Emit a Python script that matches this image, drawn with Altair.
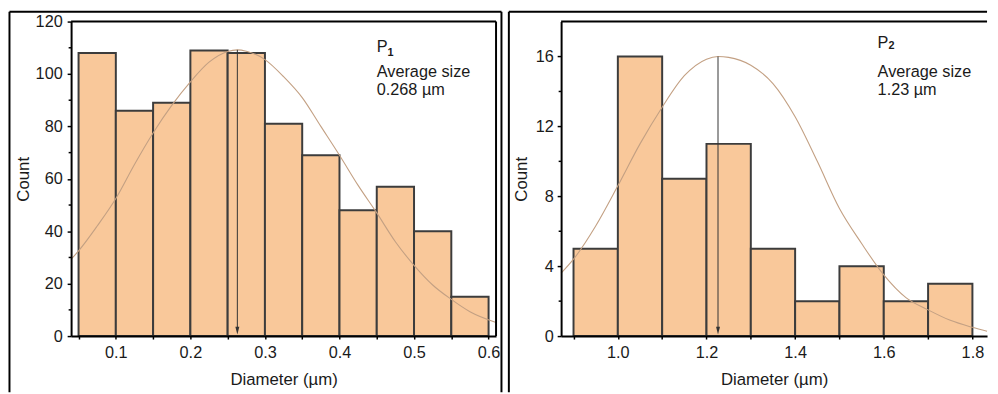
import altair as alt
import pandas as pd

FONT = "Liberation Sans"
TEXT = "#1a1a1a"
FILL = "#F9C89A"
EDGE = "#3c3c3c"
FIT = "#C3A083"
ARROW = "#333333"

# ---------------- Panel P1 ----------------
p1_bin_start = [0.05, 0.10, 0.15, 0.20, 0.25, 0.30, 0.35, 0.40, 0.45, 0.50, 0.55]
p1_bin_end = [0.10, 0.15, 0.20, 0.25, 0.30, 0.35, 0.40, 0.45, 0.50, 0.55, 0.60]
p1_count = [108, 86, 89, 109, 108, 81, 69, 48, 57, 40, 15]
p1_fit_x = [0.04, 0.05, 0.075, 0.10, 0.125, 0.15, 0.175, 0.20, 0.225, 0.25, 0.263,
            0.275, 0.30, 0.325, 0.35, 0.375, 0.40, 0.425, 0.45, 0.475, 0.50, 0.525,
            0.55, 0.575, 0.61]
p1_fit_y = [29.3, 32.5, 42.0, 52.5, 65.5, 77.5, 88.0, 97.0, 104.5, 108.6, 109.2,
            108.7, 105.5, 99.0, 91.0, 80.0, 69.0, 57.5, 47.0, 36.0, 27.0, 19.5,
            14.0, 9.3, 5.2]
p1_peak_x = [0.263]
p1_peak_y = [109.2]
p1_xticks = [0.05, 0.10, 0.15, 0.20, 0.25, 0.30, 0.35, 0.40, 0.45, 0.50, 0.55, 0.60]
p1_yticks = [0, 20, 40, 60, 80, 100, 120]
p1_yminor = [10, 30, 50, 70, 90, 110]
p1_xdomain = [0.04, 0.61]
p1_ydomain = [0, 120]
p1_name = ["P", "1"]
p1_note = ["Average size", "0.268 µm"]

# ---------------- Panel P2 ----------------
p2_bin_start = [0.9, 1.0, 1.1, 1.2, 1.3, 1.4, 1.5, 1.6, 1.7]
p2_bin_end = [1.0, 1.1, 1.2, 1.3, 1.4, 1.5, 1.6, 1.7, 1.8]
p2_count = [5, 16, 9, 11, 5, 2, 4, 2, 3]
p2_fit_x = [0.872, 0.90, 0.95, 1.00, 1.05, 1.10, 1.15, 1.20, 1.226, 1.25, 1.30,
            1.35, 1.40, 1.45, 1.50, 1.55, 1.60, 1.65, 1.70, 1.75, 1.80, 1.833]
p2_fit_y = [3.6, 4.4, 6.3, 8.6, 11.0, 13.1, 14.9, 15.85, 16.0, 15.95, 15.5,
            14.45, 12.55, 10.0, 7.3, 5.3, 3.5, 2.2, 1.5, 0.9, 0.5, 0.28]
p2_peak_x = [1.226]
p2_peak_y = [16.0]
p2_xticks = [0.9, 1.0, 1.1, 1.2, 1.3, 1.4, 1.5, 1.6, 1.7, 1.8]
p2_yticks = [0, 4, 8, 12, 16]
p2_yminor = [2, 6, 10, 14]
p2_xdomain = [0.872, 1.833]
p2_ydomain = [0, 18]
p2_name = ["P", "2"]
p2_note = ["Average size", "1.23 µm"]

H = 319
one = pd.DataFrame({"k": [0]})


def panel(bs, be, cnt, fx, fy, px, py, xt, yt, ym, xdom, ydom, name, note,
          width, label_expr, ylabel_pad, ytitle_x, frame_left, frame_right,
          draw_right, tx, name_y, sub_dx, sub_y, note_y):
    xs = alt.Scale(domain=xdom, nice=False, zero=False)
    ys = alt.Scale(domain=ydom, nice=False, zero=True)
    xaxis = alt.Axis(values=xt, labelExpr=label_expr, tickSize=3, tickWidth=1.5,
                     tickColor="black", domainColor="black", domainWidth=2,
                     labelFont=FONT, labelFontSize=16.5, labelColor=TEXT,
                     labelPadding=6, labelOverlap=False, labelFlush=False,
                     title="Diameter (µm)", titleFont=FONT, titleFontSize=17,
                     titleFontWeight="normal", titleColor=TEXT,
                     titleBaseline="alphabetic", titleY=49, grid=False, zindex=1)
    yaxis = alt.Axis(values=yt, tickSize=4, tickWidth=1.5, tickColor="black",
                     domainColor="black", domainWidth=2, labelFont=FONT,
                     labelFontSize=16.5, labelColor=TEXT, labelPadding=ylabel_pad,
                     labelOverlap=False, labelFlush=False,
                     title="Count", titleFont=FONT, titleFontSize=17,
                     titleFontWeight="normal", titleColor=TEXT,
                     titleBaseline="alphabetic", titleX=ytitle_x, grid=False,
                     zindex=1)

    def X(f):
        return alt.X(f, scale=xs, axis=xaxis)

    def Y(f):
        return alt.Y(f, scale=ys, axis=yaxis)

    bars_df = pd.DataFrame({"start": bs, "end": be, "count": cnt,
                            "base": [0] * len(cnt)})
    bars = alt.Chart(bars_df).mark_bar(fill=FILL, stroke=EDGE, strokeWidth=2).encode(
        x=X("start:Q"), x2="end:Q", y=Y("count:Q"), y2="base:Q",
    )
    fit_df = pd.DataFrame({"x": fx, "y": fy})
    fit = alt.Chart(fit_df).mark_line(color=FIT, strokeWidth=1.1,
                                      interpolate="monotone").encode(
        x=X("x:Q"), y=Y("y:Q"),
    )
    peak_df = pd.DataFrame({"x": px, "y": py})
    arrow = alt.Chart(peak_df).mark_rule(color=ARROW, strokeWidth=1).encode(
        x=X("x:Q"), y=Y("y:Q"), y2=alt.value(H - 6),
    )
    head = alt.Chart(peak_df).mark_point(shape="M-0.5,-1L0.5,-1L0,1Z", filled=True,
                                         size=64, color=ARROW, opacity=1).encode(
        x=X("x:Q"), y=alt.value(H - 5.5),
    )
    minor_df = pd.DataFrame({"v": ym})
    minor = alt.Chart(minor_df).mark_rule(color="black", strokeWidth=1.5).encode(
        y=Y("v:Q"), x=alt.value(-2.5), x2=alt.value(0),
    )
    layers = [bars, fit, arrow, head, minor]

    # plot frame (top and right)
    layers.append(alt.Chart(one).mark_rule(color="black", strokeWidth=2).encode(
        x=alt.value(0), x2=alt.value(width), y=alt.value(0)))
    if draw_right:
        layers.append(alt.Chart(one).mark_rule(color="black", strokeWidth=2).encode(
            x=alt.value(width), y=alt.value(0), y2=alt.value(H)))
    # outer panel frame
    top_end = frame_right if frame_right is not None else width
    layers.append(alt.Chart(one).mark_rule(color="black", strokeWidth=2).encode(
        x=alt.value(frame_left), x2=alt.value(top_end), y=alt.value(-10)))
    layers.append(alt.Chart(one).mark_rule(color="black", strokeWidth=2).encode(
        x=alt.value(frame_left), y=alt.value(-10), y2=alt.value(376)))
    if frame_right is not None:
        layers.append(alt.Chart(one).mark_rule(color="black", strokeWidth=2).encode(
            x=alt.value(frame_right), y=alt.value(-10), y2=alt.value(376)))

    # annotation
    layers.append(alt.Chart(one).mark_text(text=name[0], align="left",
                                           baseline="alphabetic", font=FONT,
                                           fontSize=16.5, color=TEXT).encode(
        x=alt.value(tx), y=alt.value(name_y)))
    layers.append(alt.Chart(one).mark_text(text=name[1], align="left",
                                           baseline="alphabetic", font=FONT,
                                           fontSize=11, fontWeight="bold",
                                           color=TEXT).encode(
        x=alt.value(tx + sub_dx), y=alt.value(sub_y)))
    for line, yy in zip(note, note_y):
        layers.append(alt.Chart(one).mark_text(text=line, align="left",
                                               baseline="alphabetic", font=FONT,
                                               fontSize=16.5, color=TEXT).encode(
            x=alt.value(tx), y=alt.value(yy)))

    return alt.layer(*layers).properties(width=width, height=H)


left = panel(p1_bin_start, p1_bin_end, p1_count, p1_fit_x, p1_fit_y, p1_peak_x,
             p1_peak_y, p1_xticks, p1_yticks, p1_yminor, p1_xdomain, p1_ydomain,
             p1_name, p1_note, 431,
             "round(datum.value*20) % 2 == 0 ? format(datum.value, '.1f') : ''",
             5, -43, -62.5, 436.5, True, 310, 31, 11, 34.5, [56, 74.5])
right = panel(p2_bin_start, p2_bin_end, p2_count, p2_fit_x, p2_fit_y, p2_peak_x,
              p2_peak_y, p2_xticks, p2_yticks, p2_yminor, p2_xdomain, p2_ydomain,
              p2_name, p2_note, 432,
              "round(datum.value*10) % 2 == 0 ? format(datum.value, '.1f') : ''",
              4, -35, -53, None, False, 321, 27, 11, 28, [56, 74.5])

chart = alt.hconcat(left, right, spacing=66, bounds="flush").properties(
    padding=0
).configure_view(strokeWidth=0)

chart.save("out.html", embed_options={"renderer": "svg", "actions": False})
